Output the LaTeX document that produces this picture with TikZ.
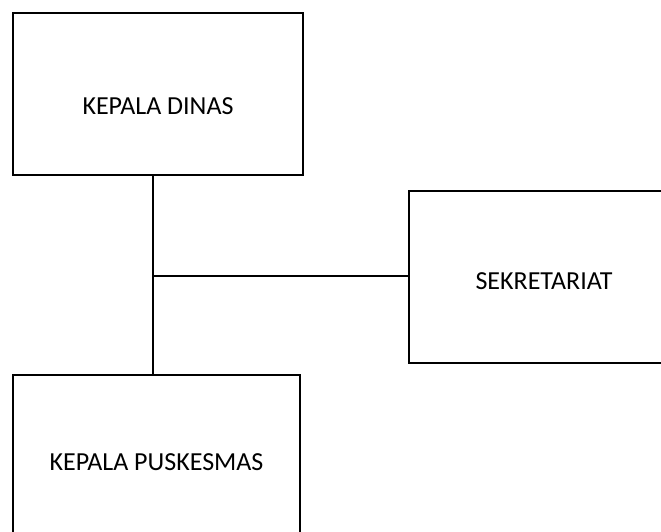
\documentclass[tikz,border=0pt]{standalone}
\usepackage{fontspec}
\setmainfont{Carlito}
\begin{document}
\begin{tikzpicture}
	[x=1pt,y=-1pt,
	box/.style={rectangle,draw=black,line width=1.6pt,inner sep=0pt,font=\fontsize{26}{30}\selectfont},
	link/.style={draw=black,line width=1.6pt}]
	\useasboundingbox (0,0) rectangle (661,531);
	\clip (0,0) rectangle (661,531);
	\node (kadis) at (158, 94) [box,minimum width=290pt,minimum height=162pt,text height=41pt,text depth=0pt] {KEPALA DINAS};
	\node (sekre) at (544, 277) [box,minimum width=270pt,minimum height=172pt,text height=25pt,text depth=0pt] {SEKRETARIAT};
	\node (pusk) at (156.5, 462) [box,minimum width=287pt,minimum height=174pt] {KEPALA PUSKESMAS};
	\coordinate (j) at (153, 276);
	\draw [link] (kadis.south -| j) to (pusk.north -| j);
	\draw [link] (j) to (sekre.west |- j);
\end{tikzpicture}
\end{document}
